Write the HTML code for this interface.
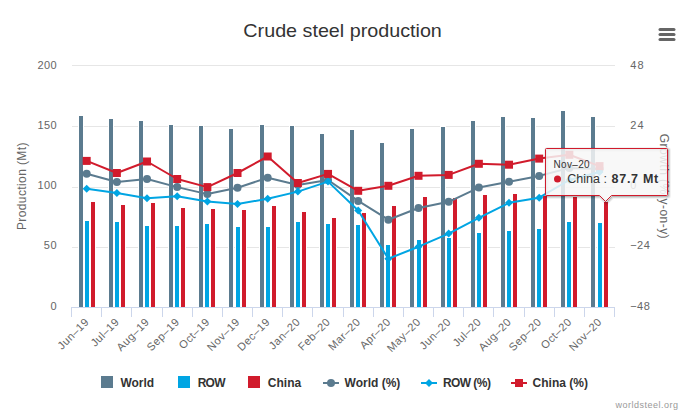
<!DOCTYPE html><html><head><meta charset="utf-8"><style>html,body{margin:0;padding:0;background:#fff;overflow:hidden}svg{display:block}text{font-family:"Liberation Sans", sans-serif}</style></head><body>
<svg width="693" height="418" viewBox="0 0 693 418">
<rect x="0" y="0" width="693" height="418" fill="#fff"/>
<text x="342.6" y="36.8" text-anchor="middle" font-size="18.5" textLength="198.5" lengthAdjust="spacingAndGlyphs" fill="#333">Crude steel production</text>
<line x1="660" y1="29.5" x2="674" y2="29.5" stroke="#666" stroke-width="3" stroke-linecap="round"/>
<line x1="660" y1="34.5" x2="674" y2="34.5" stroke="#666" stroke-width="3" stroke-linecap="round"/>
<line x1="660" y1="39.5" x2="674" y2="39.5" stroke="#666" stroke-width="3" stroke-linecap="round"/>
<rect x="72" y="65" width="543" height="1" fill="#e6e6e6"/>
<rect x="72" y="126" width="543" height="1" fill="#e6e6e6"/>
<rect x="72" y="187" width="543" height="1" fill="#e6e6e6"/>
<rect x="72" y="247" width="543" height="1" fill="#e6e6e6"/>
<rect x="78" y="115" width="6" height="192" fill="#fff"/>
<rect x="79" y="116" width="4" height="191" fill="#5b7b8f"/>
<rect x="84" y="220" width="6" height="87" fill="#fff"/>
<rect x="85" y="221" width="4" height="86" fill="#00a5e3"/>
<rect x="90" y="201" width="6" height="106" fill="#fff"/>
<rect x="91" y="202" width="4" height="105" fill="#d11b2c"/>
<rect x="108" y="118" width="6" height="189" fill="#fff"/>
<rect x="109" y="119" width="4" height="188" fill="#5b7b8f"/>
<rect x="114" y="221" width="6" height="86" fill="#fff"/>
<rect x="115" y="222" width="4" height="85" fill="#00a5e3"/>
<rect x="120" y="204" width="6" height="103" fill="#fff"/>
<rect x="121" y="205" width="4" height="102" fill="#d11b2c"/>
<rect x="138" y="120" width="6" height="187" fill="#fff"/>
<rect x="139" y="121" width="4" height="186" fill="#5b7b8f"/>
<rect x="144" y="225" width="6" height="82" fill="#fff"/>
<rect x="145" y="226" width="4" height="81" fill="#00a5e3"/>
<rect x="150" y="202" width="6" height="105" fill="#fff"/>
<rect x="151" y="203" width="4" height="104" fill="#d11b2c"/>
<rect x="168" y="124" width="6" height="183" fill="#fff"/>
<rect x="169" y="125" width="4" height="182" fill="#5b7b8f"/>
<rect x="174" y="225" width="6" height="82" fill="#fff"/>
<rect x="175" y="226" width="4" height="81" fill="#00a5e3"/>
<rect x="180" y="207" width="6" height="100" fill="#fff"/>
<rect x="181" y="208" width="4" height="99" fill="#d11b2c"/>
<rect x="198" y="125" width="6" height="182" fill="#fff"/>
<rect x="199" y="126" width="4" height="181" fill="#5b7b8f"/>
<rect x="204" y="223" width="6" height="84" fill="#fff"/>
<rect x="205" y="224" width="4" height="83" fill="#00a5e3"/>
<rect x="210" y="208" width="6" height="99" fill="#fff"/>
<rect x="211" y="209" width="4" height="98" fill="#d11b2c"/>
<rect x="228" y="128" width="6" height="179" fill="#fff"/>
<rect x="229" y="129" width="4" height="178" fill="#5b7b8f"/>
<rect x="235" y="226" width="6" height="81" fill="#fff"/>
<rect x="236" y="227" width="4" height="80" fill="#00a5e3"/>
<rect x="241" y="209" width="6" height="98" fill="#fff"/>
<rect x="242" y="210" width="4" height="97" fill="#d11b2c"/>
<rect x="259" y="124" width="6" height="183" fill="#fff"/>
<rect x="260" y="125" width="4" height="182" fill="#5b7b8f"/>
<rect x="265" y="226" width="6" height="81" fill="#fff"/>
<rect x="266" y="227" width="4" height="80" fill="#00a5e3"/>
<rect x="271" y="205" width="6" height="102" fill="#fff"/>
<rect x="272" y="206" width="4" height="101" fill="#d11b2c"/>
<rect x="289" y="125" width="6" height="182" fill="#fff"/>
<rect x="290" y="126" width="4" height="181" fill="#5b7b8f"/>
<rect x="295" y="221" width="6" height="86" fill="#fff"/>
<rect x="296" y="222" width="4" height="85" fill="#00a5e3"/>
<rect x="301" y="211" width="6" height="96" fill="#fff"/>
<rect x="302" y="212" width="4" height="95" fill="#d11b2c"/>
<rect x="319" y="133" width="6" height="174" fill="#fff"/>
<rect x="320" y="134" width="4" height="173" fill="#5b7b8f"/>
<rect x="325" y="223" width="6" height="84" fill="#fff"/>
<rect x="326" y="224" width="4" height="83" fill="#00a5e3"/>
<rect x="331" y="217" width="6" height="90" fill="#fff"/>
<rect x="332" y="218" width="4" height="89" fill="#d11b2c"/>
<rect x="349" y="129" width="6" height="178" fill="#fff"/>
<rect x="350" y="130" width="4" height="177" fill="#5b7b8f"/>
<rect x="355" y="224" width="6" height="83" fill="#fff"/>
<rect x="356" y="225" width="4" height="82" fill="#00a5e3"/>
<rect x="361" y="212" width="6" height="95" fill="#fff"/>
<rect x="362" y="213" width="4" height="94" fill="#d11b2c"/>
<rect x="379" y="142" width="6" height="165" fill="#fff"/>
<rect x="380" y="143" width="4" height="164" fill="#5b7b8f"/>
<rect x="385" y="244" width="6" height="63" fill="#fff"/>
<rect x="386" y="245" width="4" height="62" fill="#00a5e3"/>
<rect x="391" y="205" width="6" height="102" fill="#fff"/>
<rect x="392" y="206" width="4" height="101" fill="#d11b2c"/>
<rect x="409" y="128" width="6" height="179" fill="#fff"/>
<rect x="410" y="129" width="4" height="178" fill="#5b7b8f"/>
<rect x="416" y="239" width="6" height="68" fill="#fff"/>
<rect x="417" y="240" width="4" height="67" fill="#00a5e3"/>
<rect x="422" y="196" width="6" height="111" fill="#fff"/>
<rect x="423" y="197" width="4" height="110" fill="#d11b2c"/>
<rect x="440" y="126" width="6" height="181" fill="#fff"/>
<rect x="441" y="127" width="4" height="180" fill="#5b7b8f"/>
<rect x="446" y="237" width="6" height="70" fill="#fff"/>
<rect x="447" y="238" width="4" height="69" fill="#00a5e3"/>
<rect x="452" y="197" width="6" height="110" fill="#fff"/>
<rect x="453" y="198" width="4" height="109" fill="#d11b2c"/>
<rect x="470" y="120" width="6" height="187" fill="#fff"/>
<rect x="471" y="121" width="4" height="186" fill="#5b7b8f"/>
<rect x="476" y="232" width="6" height="75" fill="#fff"/>
<rect x="477" y="233" width="4" height="74" fill="#00a5e3"/>
<rect x="482" y="194" width="6" height="113" fill="#fff"/>
<rect x="483" y="195" width="4" height="112" fill="#d11b2c"/>
<rect x="500" y="116" width="6" height="191" fill="#fff"/>
<rect x="501" y="117" width="4" height="190" fill="#5b7b8f"/>
<rect x="506" y="230" width="6" height="77" fill="#fff"/>
<rect x="507" y="231" width="4" height="76" fill="#00a5e3"/>
<rect x="512" y="193" width="6" height="114" fill="#fff"/>
<rect x="513" y="194" width="4" height="113" fill="#d11b2c"/>
<rect x="530" y="117" width="6" height="190" fill="#fff"/>
<rect x="531" y="118" width="4" height="189" fill="#5b7b8f"/>
<rect x="536" y="228" width="6" height="79" fill="#fff"/>
<rect x="537" y="229" width="4" height="78" fill="#00a5e3"/>
<rect x="542" y="195" width="6" height="112" fill="#fff"/>
<rect x="543" y="196" width="4" height="111" fill="#d11b2c"/>
<rect x="560" y="110" width="6" height="197" fill="#fff"/>
<rect x="561" y="111" width="4" height="196" fill="#5b7b8f"/>
<rect x="566" y="221" width="6" height="86" fill="#fff"/>
<rect x="567" y="222" width="4" height="85" fill="#00a5e3"/>
<rect x="572" y="196" width="6" height="111" fill="#fff"/>
<rect x="573" y="197" width="4" height="110" fill="#d11b2c"/>
<rect x="590" y="116" width="6" height="191" fill="#fff"/>
<rect x="591" y="117" width="4" height="190" fill="#5b7b8f"/>
<rect x="597" y="222" width="6" height="85" fill="#fff"/>
<rect x="598" y="223" width="4" height="84" fill="#00a5e3"/>
<rect x="603" y="201" width="6" height="106" fill="#fff"/>
<rect x="604" y="202" width="4" height="105" fill="#d11b2c"/>
<rect x="71" y="307" width="544" height="1" fill="#ccd6eb"/>
<rect x="71" y="307" width="1" height="10" fill="#ccd6eb"/>
<rect x="101" y="307" width="1" height="10" fill="#ccd6eb"/>
<rect x="131" y="307" width="1" height="10" fill="#ccd6eb"/>
<rect x="162" y="307" width="1" height="10" fill="#ccd6eb"/>
<rect x="192" y="307" width="1" height="10" fill="#ccd6eb"/>
<rect x="222" y="307" width="1" height="10" fill="#ccd6eb"/>
<rect x="252" y="307" width="1" height="10" fill="#ccd6eb"/>
<rect x="282" y="307" width="1" height="10" fill="#ccd6eb"/>
<rect x="312" y="307" width="1" height="10" fill="#ccd6eb"/>
<rect x="343" y="307" width="1" height="10" fill="#ccd6eb"/>
<rect x="373" y="307" width="1" height="10" fill="#ccd6eb"/>
<rect x="403" y="307" width="1" height="10" fill="#ccd6eb"/>
<rect x="433" y="307" width="1" height="10" fill="#ccd6eb"/>
<rect x="463" y="307" width="1" height="10" fill="#ccd6eb"/>
<rect x="493" y="307" width="1" height="10" fill="#ccd6eb"/>
<rect x="524" y="307" width="1" height="10" fill="#ccd6eb"/>
<rect x="554" y="307" width="1" height="10" fill="#ccd6eb"/>
<rect x="584" y="307" width="1" height="10" fill="#ccd6eb"/>
<rect x="614" y="307" width="1" height="10" fill="#ccd6eb"/>
<text x="56.6" y="69" text-anchor="end" font-size="11" textLength="19.2" fill="#666">200</text>
<text x="56.6" y="129" text-anchor="end" font-size="11" textLength="19.2" fill="#666">150</text>
<text x="56.6" y="189" text-anchor="end" font-size="11" textLength="19.2" fill="#666">100</text>
<text x="56.6" y="249" text-anchor="end" font-size="11" textLength="12.8" fill="#666">50</text>
<text x="56.6" y="310" text-anchor="end" font-size="11" textLength="6.4" fill="#666">0</text>
<text x="630.2" y="69" font-size="11" textLength="13.4" fill="#666">48</text>
<text x="630.2" y="129" font-size="11" textLength="13.4" fill="#666">24</text>
<text x="630.2" y="189" font-size="11" textLength="6.6" fill="#666">0</text>
<text x="630.2" y="249" font-size="11" textLength="19.6" fill="#666">−24</text>
<text x="630.2" y="310" font-size="11" textLength="19.6" fill="#666">−48</text>
<text transform="translate(25.8,186.3) rotate(-90)" text-anchor="middle" font-size="12" textLength="87.5" fill="#666">Production (Mt)</text>
<text transform="translate(660,186.2) rotate(90)" text-anchor="middle" font-size="12" textLength="104.8" fill="#666">Growth (% y-on-y)</text>
<text transform="translate(89.33,323) rotate(-45)" text-anchor="end" font-size="11" textLength="38.5" fill="#666">Jun–19</text>
<text transform="translate(119.50,323) rotate(-45)" text-anchor="end" font-size="11" textLength="34.4" fill="#666">Jul–19</text>
<text transform="translate(149.67,323) rotate(-45)" text-anchor="end" font-size="11" textLength="40.6" fill="#666">Aug–19</text>
<text transform="translate(179.83,323) rotate(-45)" text-anchor="end" font-size="11" textLength="40.6" fill="#666">Sep–19</text>
<text transform="translate(210.00,323) rotate(-45)" text-anchor="end" font-size="11" textLength="37.8" fill="#666">Oct–19</text>
<text transform="translate(240.17,323) rotate(-45)" text-anchor="end" font-size="11" textLength="40.6" fill="#666">Nov–19</text>
<text transform="translate(270.33,323) rotate(-45)" text-anchor="end" font-size="11" textLength="40.6" fill="#666">Dec–19</text>
<text transform="translate(300.50,323) rotate(-45)" text-anchor="end" font-size="11" textLength="38.5" fill="#666">Jan–20</text>
<text transform="translate(330.67,323) rotate(-45)" text-anchor="end" font-size="11" textLength="40.0" fill="#666">Feb–20</text>
<text transform="translate(360.83,323) rotate(-45)" text-anchor="end" font-size="11" textLength="39.8" fill="#666">Mar–20</text>
<text transform="translate(391.00,323) rotate(-45)" text-anchor="end" font-size="11" textLength="37.8" fill="#666">Apr–20</text>
<text transform="translate(421.17,323) rotate(-45)" text-anchor="end" font-size="11" textLength="42.0" fill="#666">May–20</text>
<text transform="translate(451.33,323) rotate(-45)" text-anchor="end" font-size="11" textLength="38.5" fill="#666">Jun–20</text>
<text transform="translate(481.50,323) rotate(-45)" text-anchor="end" font-size="11" textLength="34.4" fill="#666">Jul–20</text>
<text transform="translate(511.67,323) rotate(-45)" text-anchor="end" font-size="11" textLength="40.6" fill="#666">Aug–20</text>
<text transform="translate(541.83,323) rotate(-45)" text-anchor="end" font-size="11" textLength="40.6" fill="#666">Sep–20</text>
<text transform="translate(572.00,323) rotate(-45)" text-anchor="end" font-size="11" textLength="37.8" fill="#666">Oct–20</text>
<text transform="translate(602.17,323) rotate(-45)" text-anchor="end" font-size="11" textLength="40.6" fill="#666">Nov–20</text>
<polyline points="86.68,173.70 116.85,182.00 147.02,179.00 177.18,187.10 207.35,194.10 237.52,187.70 267.68,177.70 297.85,185.00 328.02,180.00 358.18,200.90 388.35,219.70 418.52,208.00 448.68,201.80 478.85,187.60 509.02,181.80 539.18,175.90 569.35,168.00 599.52,169.00" fill="none" stroke="#5b7b8f" stroke-width="2" stroke-linejoin="round" stroke-linecap="round"/>
<circle cx="86.68" cy="173.7" r="4" fill="#5b7b8f"/>
<circle cx="116.85" cy="182" r="4" fill="#5b7b8f"/>
<circle cx="147.02" cy="179" r="4" fill="#5b7b8f"/>
<circle cx="177.18" cy="187.1" r="4" fill="#5b7b8f"/>
<circle cx="207.35" cy="194.1" r="4" fill="#5b7b8f"/>
<circle cx="237.52" cy="187.7" r="4" fill="#5b7b8f"/>
<circle cx="267.68" cy="177.7" r="4" fill="#5b7b8f"/>
<circle cx="297.85" cy="185" r="4" fill="#5b7b8f"/>
<circle cx="328.02" cy="180" r="4" fill="#5b7b8f"/>
<circle cx="358.18" cy="200.9" r="4" fill="#5b7b8f"/>
<circle cx="388.35" cy="219.7" r="4" fill="#5b7b8f"/>
<circle cx="418.52" cy="208" r="4" fill="#5b7b8f"/>
<circle cx="448.68" cy="201.8" r="4" fill="#5b7b8f"/>
<circle cx="478.85" cy="187.6" r="4" fill="#5b7b8f"/>
<circle cx="509.02" cy="181.8" r="4" fill="#5b7b8f"/>
<circle cx="539.18" cy="175.9" r="4" fill="#5b7b8f"/>
<circle cx="569.35" cy="168" r="4" fill="#5b7b8f"/>
<circle cx="599.52" cy="169" r="4" fill="#5b7b8f"/>
<polyline points="86.68,188.80 116.85,193.10 147.02,198.20 177.18,196.20 207.35,201.60 237.52,204.00 267.68,198.80 297.85,191.60 328.02,181.60 358.18,210.50 388.35,258.70 418.52,246.70 448.68,233.60 478.85,217.80 509.02,202.80 539.18,197.70 569.35,180.00 599.52,172.00" fill="none" stroke="#00a5e3" stroke-width="2" stroke-linejoin="round" stroke-linecap="round"/>
<path d="M86.68 184.80 L90.68 188.80 L86.68 192.80 L82.68 188.80Z" fill="#00a5e3"/>
<path d="M116.85 189.10 L120.85 193.10 L116.85 197.10 L112.85 193.10Z" fill="#00a5e3"/>
<path d="M147.02 194.20 L151.02 198.20 L147.02 202.20 L143.02 198.20Z" fill="#00a5e3"/>
<path d="M177.18 192.20 L181.18 196.20 L177.18 200.20 L173.18 196.20Z" fill="#00a5e3"/>
<path d="M207.35 197.60 L211.35 201.60 L207.35 205.60 L203.35 201.60Z" fill="#00a5e3"/>
<path d="M237.52 200.00 L241.52 204.00 L237.52 208.00 L233.52 204.00Z" fill="#00a5e3"/>
<path d="M267.68 194.80 L271.68 198.80 L267.68 202.80 L263.68 198.80Z" fill="#00a5e3"/>
<path d="M297.85 187.60 L301.85 191.60 L297.85 195.60 L293.85 191.60Z" fill="#00a5e3"/>
<path d="M328.02 177.60 L332.02 181.60 L328.02 185.60 L324.02 181.60Z" fill="#00a5e3"/>
<path d="M358.18 206.50 L362.18 210.50 L358.18 214.50 L354.18 210.50Z" fill="#00a5e3"/>
<path d="M388.35 254.70 L392.35 258.70 L388.35 262.70 L384.35 258.70Z" fill="#00a5e3"/>
<path d="M418.52 242.70 L422.52 246.70 L418.52 250.70 L414.52 246.70Z" fill="#00a5e3"/>
<path d="M448.68 229.60 L452.68 233.60 L448.68 237.60 L444.68 233.60Z" fill="#00a5e3"/>
<path d="M478.85 213.80 L482.85 217.80 L478.85 221.80 L474.85 217.80Z" fill="#00a5e3"/>
<path d="M509.02 198.80 L513.02 202.80 L509.02 206.80 L505.02 202.80Z" fill="#00a5e3"/>
<path d="M539.18 193.70 L543.18 197.70 L539.18 201.70 L535.18 197.70Z" fill="#00a5e3"/>
<path d="M569.35 176.00 L573.35 180.00 L569.35 184.00 L565.35 180.00Z" fill="#00a5e3"/>
<path d="M599.52 168.00 L603.52 172.00 L599.52 176.00 L595.52 172.00Z" fill="#00a5e3"/>
<polyline points="86.68,160.90 116.85,173.00 147.02,161.50 177.18,179.00 207.35,187.10 237.52,173.00 267.68,156.50 297.85,183.00 328.02,173.90 358.18,190.80 388.35,185.80 418.52,175.80 448.68,174.90 478.85,163.80 509.02,164.70 539.18,158.60 569.35,154.80 599.52,166.10" fill="none" stroke="#d11b2c" stroke-width="2" stroke-linejoin="round" stroke-linecap="round"/>
<rect x="82.68" y="156.90" width="8" height="8" fill="#d11b2c"/>
<rect x="112.85" y="169.00" width="8" height="8" fill="#d11b2c"/>
<rect x="143.02" y="157.50" width="8" height="8" fill="#d11b2c"/>
<rect x="173.18" y="175.00" width="8" height="8" fill="#d11b2c"/>
<rect x="203.35" y="183.10" width="8" height="8" fill="#d11b2c"/>
<rect x="233.52" y="169.00" width="8" height="8" fill="#d11b2c"/>
<rect x="263.68" y="152.50" width="8" height="8" fill="#d11b2c"/>
<rect x="293.85" y="179.00" width="8" height="8" fill="#d11b2c"/>
<rect x="324.02" y="169.90" width="8" height="8" fill="#d11b2c"/>
<rect x="354.18" y="186.80" width="8" height="8" fill="#d11b2c"/>
<rect x="384.35" y="181.80" width="8" height="8" fill="#d11b2c"/>
<rect x="414.52" y="171.80" width="8" height="8" fill="#d11b2c"/>
<rect x="444.68" y="170.90" width="8" height="8" fill="#d11b2c"/>
<rect x="474.85" y="159.80" width="8" height="8" fill="#d11b2c"/>
<rect x="505.02" y="160.70" width="8" height="8" fill="#d11b2c"/>
<rect x="535.18" y="154.60" width="8" height="8" fill="#d11b2c"/>
<rect x="565.35" y="150.80" width="8" height="8" fill="#d11b2c"/>
<rect x="595.52" y="162.10" width="8" height="8" fill="#d11b2c"/>
<rect x="101" y="376" width="12" height="12" fill="#5b7b8f"/>
<text x="120.4" y="386.7" font-size="12" font-weight="bold" fill="#333">World</text>
<rect x="178" y="376" width="12" height="12" fill="#00a5e3"/>
<text x="197.7" y="386.7" font-size="12" font-weight="bold" textLength="27.8" fill="#333">ROW</text>
<rect x="248" y="376" width="12" height="12" fill="#d11b2c"/>
<text x="267.8" y="386.7" font-size="12" font-weight="bold" fill="#333">China</text>
<rect x="323" y="382" width="16" height="2" fill="#5b7b8f"/><circle cx="331" cy="383" r="4" fill="#5b7b8f"/>
<text x="344.6" y="386.7" font-size="12" font-weight="bold" fill="#333">World (%)</text>
<rect x="421" y="382" width="16" height="2" fill="#00a5e3"/><path d="M429 379 L433 383 L429 387 L425 383Z" fill="#00a5e3"/>
<text x="442.9" y="386.7" font-size="12" font-weight="bold" textLength="48" fill="#333">ROW (%)</text>
<rect x="511" y="382" width="16" height="2" fill="#d11b2c"/><rect x="515" y="379" width="8" height="8" fill="#d11b2c"/>
<text x="532.6" y="386.7" font-size="12" font-weight="bold" fill="#333">China (%)</text>
<text x="678" y="407.8" text-anchor="end" font-size="9" textLength="62.6" fill="#999">worldsteel.org</text>
<path d="M546.5 148.5 L666.5 148.5 Q667.5 148.5 667.5 149.5 L667.5 194.5 Q667.5 195.5 666.5 195.5 L611.5 195.5 L605.5 201.5 L599.5 195.5 L546.5 195.5 Q545.5 195.5 545.5 194.5 L545.5 149.5 Q545.5 148.5 546.5 148.5Z" transform="translate(1,1)" fill="none" stroke="#000" stroke-opacity="0.05" stroke-width="5"/>
<path d="M546.5 148.5 L666.5 148.5 Q667.5 148.5 667.5 149.5 L667.5 194.5 Q667.5 195.5 666.5 195.5 L611.5 195.5 L605.5 201.5 L599.5 195.5 L546.5 195.5 Q545.5 195.5 545.5 194.5 L545.5 149.5 Q545.5 148.5 546.5 148.5Z" transform="translate(1,1)" fill="none" stroke="#000" stroke-opacity="0.1" stroke-width="3"/>
<path d="M546.5 148.5 L666.5 148.5 Q667.5 148.5 667.5 149.5 L667.5 194.5 Q667.5 195.5 666.5 195.5 L611.5 195.5 L605.5 201.5 L599.5 195.5 L546.5 195.5 Q545.5 195.5 545.5 194.5 L545.5 149.5 Q545.5 148.5 546.5 148.5Z" transform="translate(1,1)" fill="none" stroke="#000" stroke-opacity="0.15" stroke-width="1"/>
<path d="M546.5 148.5 L666.5 148.5 Q667.5 148.5 667.5 149.5 L667.5 194.5 Q667.5 195.5 666.5 195.5 L611.5 195.5 L605.5 201.5 L599.5 195.5 L546.5 195.5 Q545.5 195.5 545.5 194.5 L545.5 149.5 Q545.5 148.5 546.5 148.5Z" fill="rgba(247,247,247,0.85)" stroke="#d11b2c" stroke-width="1"/>
<text x="553.4" y="168.2" font-size="10" textLength="36.2" fill="#333">Nov–20</text>
<circle cx="557.5" cy="179" r="3.5" fill="#d11b2c"/>
<text x="567.3" y="182.9" font-size="12.5" fill="#333">China :</text><text x="611.6" y="182.9" font-size="12.5" font-weight="bold" textLength="46.6" fill="#333">87.7 Mt</text>
</svg></body></html>
